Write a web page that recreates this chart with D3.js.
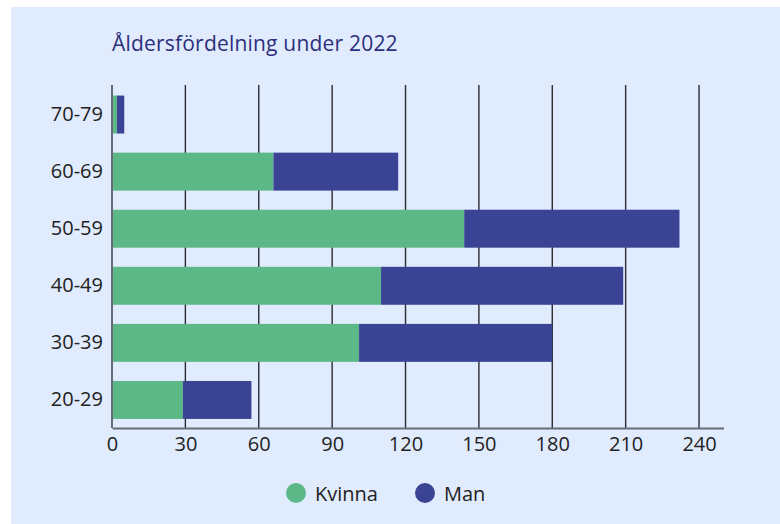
<!DOCTYPE html>
<html>
<head>
<meta charset="utf-8">
<script src="https://cdn.jsdelivr.net/npm/d3@7"></script>
<style>
  body { margin: 0; background: #ffffff; }
  text { font-family: "Open Sans", "Roboto", sans-serif; }
</style>
</head>
<body>
<script>
var w = 780;
var h = 524;

// Data
var ageGroups = ["20-29", "30-39", "40-49", "50-59", "60-69", "70-79"];
var kvinna = [29, 101, 110, 144, 66, 2];
var man = [28, 79, 99, 88, 51, 3];
var xTicks = [0, 30, 60, 90, 120, 150, 180, 210, 240];
var seriesNames = ["Kvinna", "Man"];
var seriesColors = ["#5cb887", "#3b4494"];

var svg = d3.select("body")
    .append("svg")
    .attr("width", w)
    .attr("height", h);

// background panel
svg.append("rect")
    .attr("x", 11)
    .attr("y", 7)
    .attr("width", w - 11)
    .attr("height", h - 7)
    .attr("fill", "#e0ebfd");

svg.append("text")
    .attr("x", 112)
    .attr("y", 51)
    .attr("fill", "#2d2f7c")
    .style("font-size", "21px")
    .style("letter-spacing", "0.2px")
    .style("font-weight", 500)
    .text("Åldersfördelning under 2022");

var x = d3.scaleLinear()
    .domain([0, 250])
    .range([112, 723.5]);

var y = d3.scaleBand()
    .domain(ageGroups.slice().reverse())
    .range([86, 428.5])
    .paddingInner(0.335)
    .paddingOuter(0.1675);

// gridlines
svg.append("g")
    .selectAll("line")
    .data(xTicks.slice(1))
    .enter()
    .append("line")
    .attr("x1", function (d) { return x(d); })
    .attr("x2", function (d) { return x(d); })
    .attr("y1", 85)
    .attr("y2", 428)
    .attr("stroke", "#2a2a30")
    .attr("stroke-width", 1.4);

// stacked bars
var rows = ageGroups.map(function (g, i) {
    return { group: g, Kvinna: kvinna[i], Man: man[i] };
});
var stack = d3.stack().keys(seriesNames)(rows);

svg.append("g")
    .selectAll("g")
    .data(stack)
    .enter()
    .append("g")
    .attr("fill", function (d, i) { return seriesColors[i]; })
    .selectAll("rect")
    .data(function (d) { return d; })
    .enter()
    .append("rect")
    .attr("x", function (d) { return x(d[0]); })
    .attr("width", function (d) { return x(d[1]) - x(d[0]); })
    .attr("y", function (d) { return y(d.data.group); })
    .attr("height", y.bandwidth());

// axes
var xAxis = svg.append("g")
    .attr("transform", "translate(0,428)")
    .call(d3.axisBottom(x).tickValues(xTicks).tickSize(0).tickPadding(9).tickSizeOuter(0));
xAxis.select(".domain").attr("stroke", "#666b75").attr("stroke-width", 2);
xAxis.selectAll("text").style("font-size", "20px").attr("fill", "#222");

var yAxis = svg.append("g")
    .attr("transform", "translate(112,0)")
    .call(d3.axisLeft(y).tickSize(0).tickPadding(9));
yAxis.select(".domain").attr("d", "M0,85V428").attr("stroke", "#666b75").attr("stroke-width", 2);
yAxis.selectAll("text").style("font-size", "20px").attr("fill", "#222");

// legend
var legendX = [296, 425];
var legend = svg.append("g")
    .selectAll("g")
    .data(seriesNames)
    .enter()
    .append("g")
    .attr("transform", function (d, i) { return "translate(" + legendX[i] + ",493)"; });
legend.append("circle")
    .attr("r", 10)
    .attr("fill", function (d, i) { return seriesColors[i]; });
legend.append("text")
    .attr("x", 19)
    .attr("y", 7.5)
    .style("font-size", "20px")
    .attr("fill", "#222")
    .text(function (d) { return d; });
</script>
</body>
</html>
